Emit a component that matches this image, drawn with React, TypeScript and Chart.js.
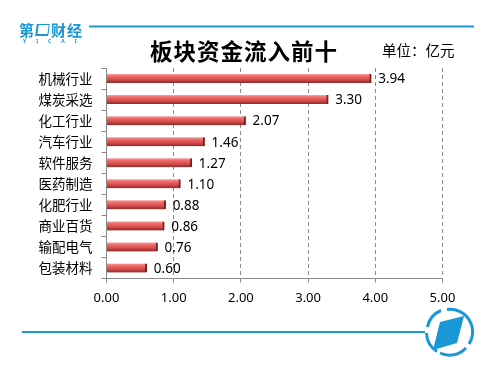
import React, { useEffect, useRef } from "react";
import { Chart, registerables } from "chart.js";

Chart.register(...registerables);

const categories = ["机械行业", "煤炭采选", "化工行业", "汽车行业", "软件服务", "医药制造", "化肥行业", "商业百货", "输配电气", "包装材料"];
const values = [3.94, 3.3, 2.07, 1.46, 1.27, 1.1, 0.88, 0.86, 0.76, 0.6];
const xTicks = [0, 1, 2, 3, 4, 5];
const titleText = "板块资金流入前十";
const unitText = "单位：亿元";

const BLUE = "#1a97d5";
const CJK = '"Noto Sans CJK SC", "Noto Sans", sans-serif';
const NUM = '"Noto Sans", "Liberation Sans", sans-serif';

const labelPlugin = {
  id: "valueLabels",
  afterDatasetsDraw(chart: any) {
    const c = chart.ctx;
    const meta = chart.getDatasetMeta(0);
    c.save();
    c.font = `13.5px ${NUM}`;
    c.fillStyle = "#000";
    c.textBaseline = "middle";
    c.textAlign = "left";
    meta.data.forEach((el: any, i: number) => {
      c.fillText(values[i].toFixed(2), el.x + 7, el.y + 1);
    });
    c.restore();
  },
};

export default function App() {
  const ref = useRef<HTMLCanvasElement | null>(null);

  useEffect(() => {
    if (!ref.current) return;
    const chart = new Chart(ref.current, {
      type: "bar",
      data: {
        labels: categories,
        datasets: [
          {
            data: values,
            barThickness: 9,
            borderWidth: { top: 0, right: 2, bottom: 0, left: 0 } as any,
            borderSkipped: false as any,
            borderColor: "#7a1e1e",
            backgroundColor: (ctx: any) => {
              const chart = ctx.chart;
              const ys = chart.scales?.y;
              if (!ys || ctx.dataIndex === undefined) return "#d9514f";
              const y = ys.getPixelForValue(ctx.dataIndex);
              if (!isFinite(y)) return "#d9514f";
              const g = chart.ctx.createLinearGradient(0, y - 4.5, 0, y + 4.5);
              g.addColorStop(0, "#f6a0a0");
              g.addColorStop(0.25, "#ec6c6a");
              g.addColorStop(0.6, "#d94e4c");
              g.addColorStop(1, "#8c2a2a");
              return g;
            },
          },
        ],
      },
      options: {
        indexAxis: "y",
        animation: false,
        responsive: false,
        devicePixelRatio: 1,
        layout: { padding: { top: 68, right: 57.5, bottom: 0, left: 0 } },
        plugins: { legend: { display: false }, tooltip: { enabled: false }, title: { display: false } },
        scales: {
          x: {
            min: 0,
            max: 5,
            afterFit: (s: any) => {
              s.height = 94.5;
            },
            afterBuildTicks: (s: any) => {
              s.ticks = xTicks.map((v) => ({ value: v }));
            },
            ticks: {
              padding: 7.5,
              color: "#000",
              font: { family: NUM, size: 13 },
              callback: (v: any) => Number(v).toFixed(2),
            },
            grid: {
              color: (ctx: any) => (ctx.index === 0 ? "rgba(0,0,0,0)" : "#8a8a8a"),
              tickColor: "#8a8a8a",
              tickLength: 4,
              drawTicks: true,
            },
            border: { display: true, color: "#8a8a8a", dash: [4, 3] },
          },
          y: {
            afterFit: (s: any) => {
              s.width = 106.5;
            },
            ticks: {
              padding: 9,
              color: "#000",
              font: { family: CJK, size: 13.5 },
            },
            grid: {
              offset: true,
              drawOnChartArea: false,
              drawTicks: true,
              tickLength: 5,
              color: "#8a8a8a",
            },
            border: { display: true, color: "#8a8a8a" },
          },
        },
      },
      plugins: [labelPlugin],
    } as any);
    return () => chart.destroy();
  }, []);

  return (
    <div style={{ position: "absolute", left: 0, top: 0, width: 500, height: 373, background: "#fff", overflow: "hidden" }}>
      <canvas ref={ref} width={500} height={373} style={{ position: "absolute", left: 0, top: 0, width: 500, height: 373 }} />
      <svg width={500} height={373} style={{ position: "absolute", left: 0, top: 0, pointerEvents: "none" }}>
        <line x1={89} y1={26.5} x2={474} y2={26.5} stroke={BLUE} strokeWidth={2} />
        <line x1={22} y1={332} x2={425} y2={332} stroke={BLUE} strokeWidth={2} />
        <path d="M 427.5 327 A 22.5 22.5 0 0 1 441 310.5" fill="none" stroke={BLUE} strokeWidth={3} />
        <path d="M 447 309.5 A 22.5 22.5 0 0 1 469 344" fill="none" stroke={BLUE} strokeWidth={3} />
        <path d="M 466 348 A 22.5 22.5 0 0 1 440 353" fill="none" stroke={BLUE} strokeWidth={3} />
        <path d="M 437 351.5 A 22.5 22.5 0 0 1 426.5 333" fill="none" stroke={BLUE} strokeWidth={3} />
        <polygon points="440,322 464,316 457,343 433,350" fill={BLUE} />
      </svg>
      <div style={{ position: "absolute", left: 19, top: 22, color: BLUE, fontFamily: CJK, fontWeight: 700, fontSize: 15, lineHeight: "16px", letterSpacing: 1, whiteSpace: "nowrap", display: "flex", alignItems: "center" }}>
        <span>第</span>
        <span style={{ display: "inline-block", width: 10, height: 9, border: `2.5px solid ${BLUE}`, borderRightWidth: 1, borderTopWidth: 1, margin: "0 2px 0 1px", transform: "skewX(-8deg)" }} />
        <span>财经</span>
      </div>
      <div style={{ position: "absolute", left: 23, top: 38, color: BLUE, fontFamily: NUM, fontWeight: 700, fontSize: 5, letterSpacing: 10, whiteSpace: "nowrap" }}>YICAI</div>
      <div style={{ position: "absolute", left: 146, top: 36, width: 196, textAlign: "center", fontFamily: CJK, fontWeight: 700, fontSize: 22.5, lineHeight: "28px", letterSpacing: 1, color: "#000", whiteSpace: "nowrap" }}>{titleText}</div>
      <div style={{ position: "absolute", left: 382, top: 40, fontFamily: CJK, fontSize: 14.5, lineHeight: "20px", color: "#000", whiteSpace: "nowrap" }}>{unitText}</div>
    </div>
  );
}
